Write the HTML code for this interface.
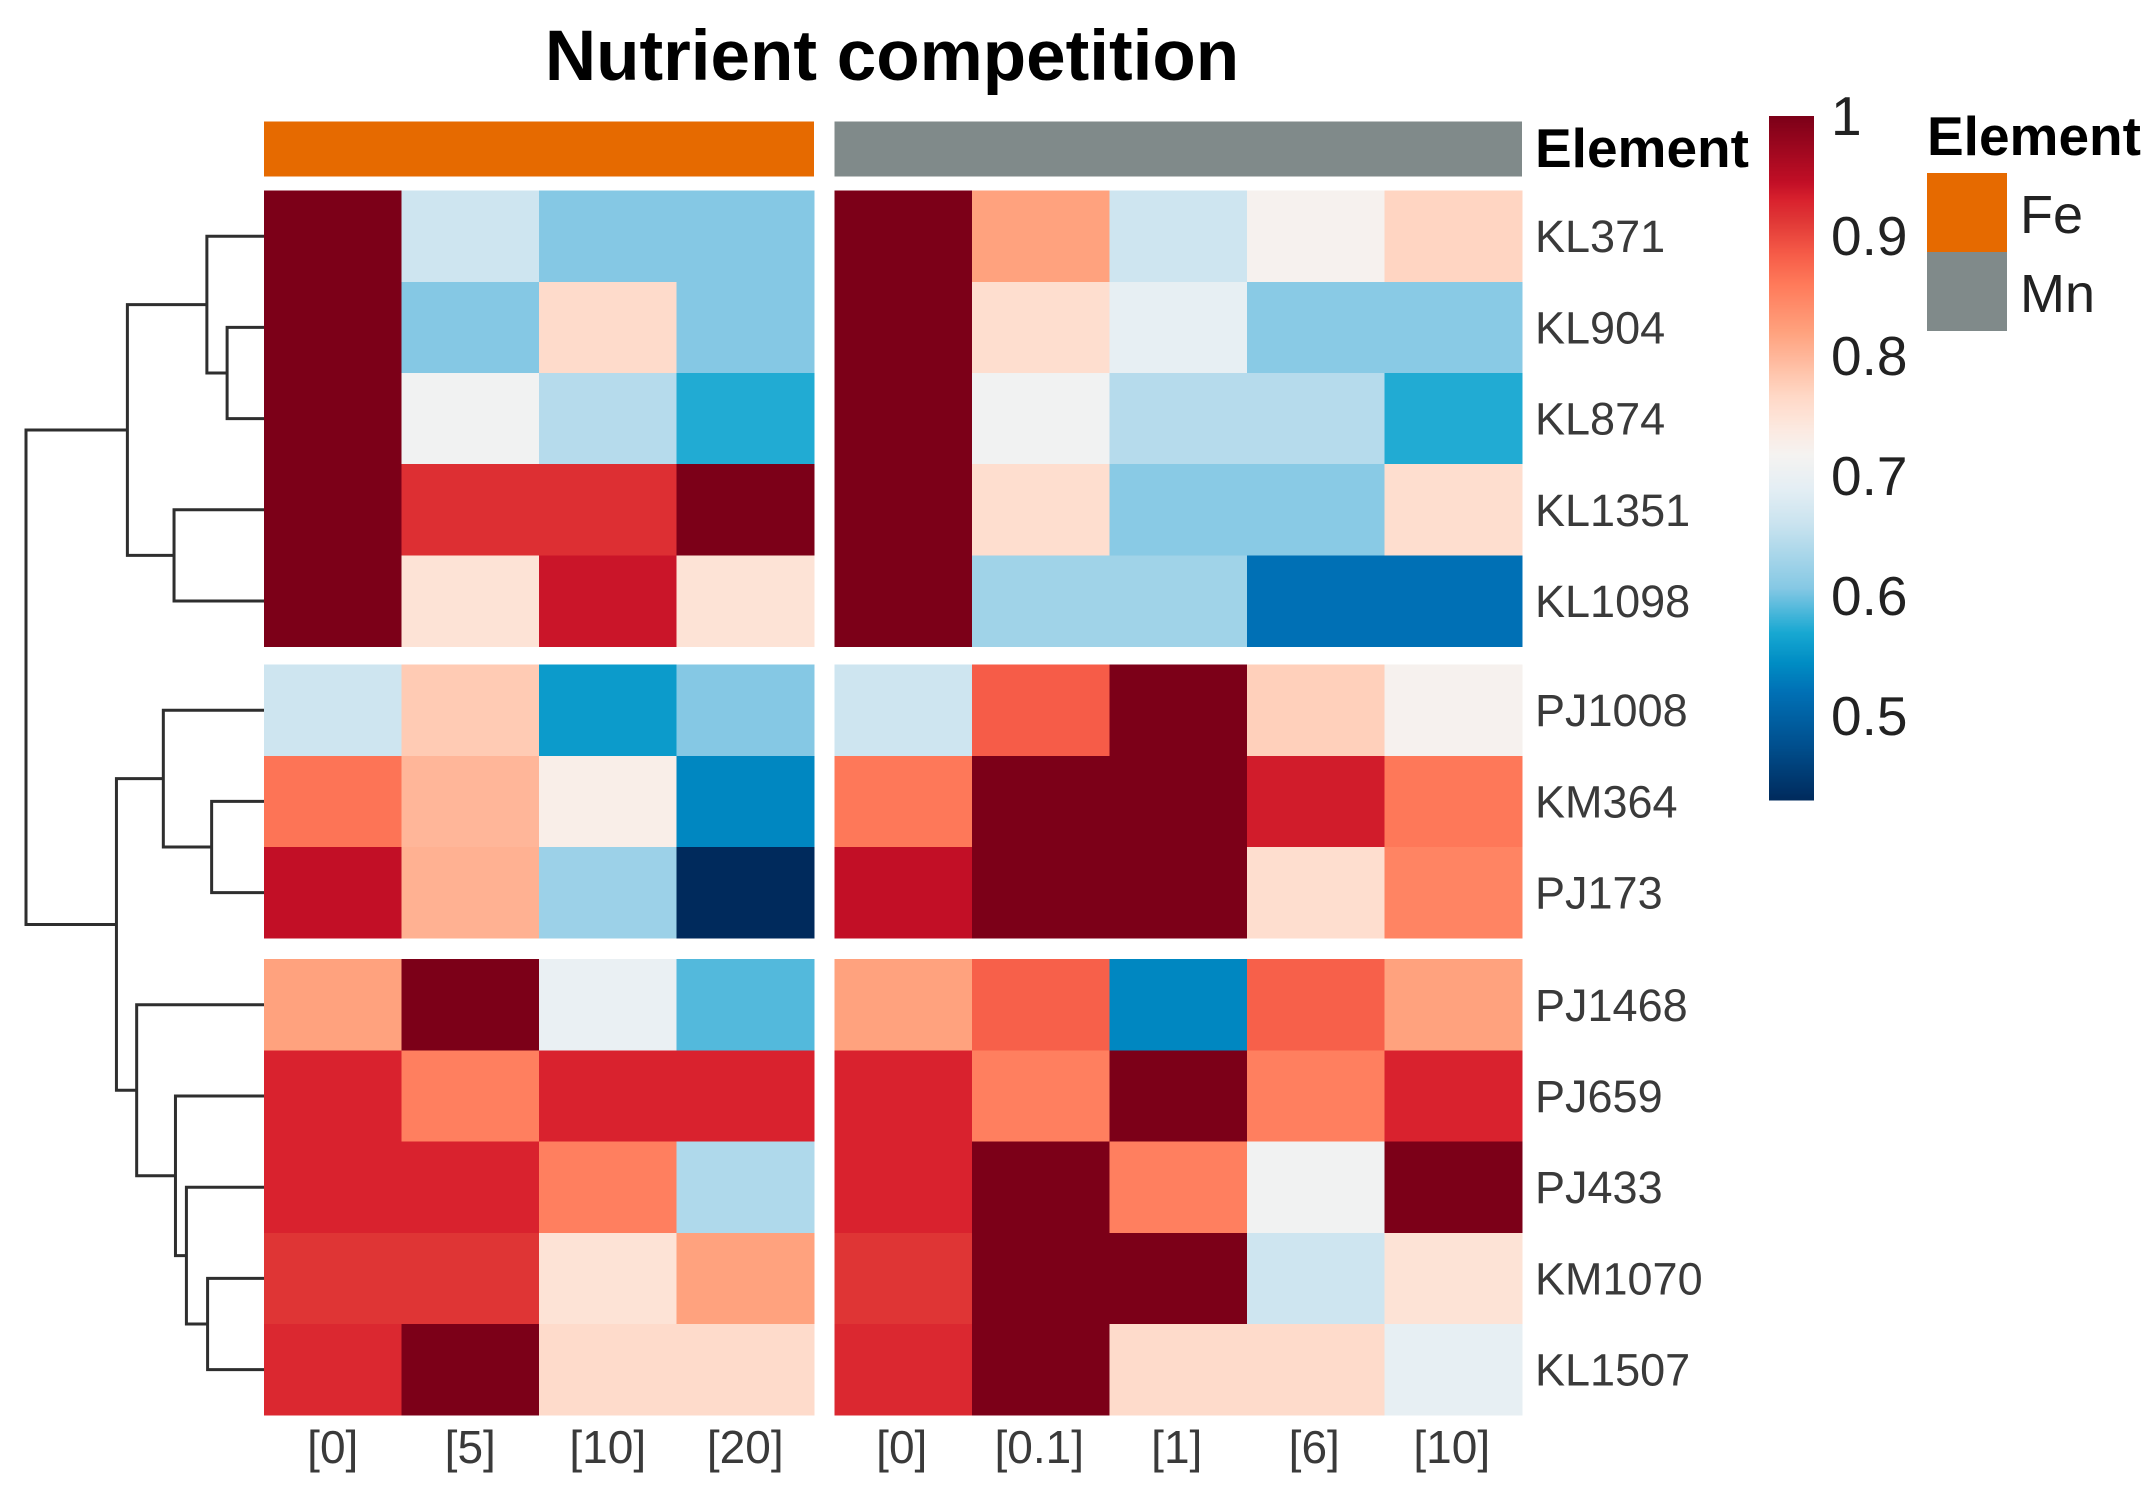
<!DOCTYPE html>
<html lang="en">
<head>
<meta charset="utf-8">
<title>Nutrient competition</title>
<style>
html,body{margin:0;padding:0;background:#fff;width:2155px;height:1492px;overflow:hidden}
svg{display:block}
text{font-family:"Liberation Sans",Arial,sans-serif}
</style>
</head>
<body>
<svg id="chart" xmlns="http://www.w3.org/2000/svg" width="2155" height="1492" viewBox="0 0 2155 1492">
  <rect x="0" y="0" width="2155" height="1492" fill="#ffffff"/>
  <text x="892" y="80" font-size="71" font-weight="700" text-anchor="middle" fill="#000">Nutrient competition</text>
  <g id="heatmap" shape-rendering="crispEdges"></g>
  <g id="dendrogram" fill="none" stroke="#2e2e2e" stroke-width="3"></g>
  <g id="annotation" shape-rendering="crispEdges"></g>
  <text x="1535" y="167" font-size="55" font-weight="700" fill="#000">Element</text>
  <g id="rowLabels"></g>
  <g id="colLabels"></g>
  <g id="colorbar" shape-rendering="crispEdges"></g>
  <g id="colorbarLabels"></g>
  <g>
    <text x="1927" y="155" font-size="55" font-weight="700" fill="#000">Element</text>
    <rect x="1927" y="173" width="80" height="79" fill="#e66a00" shape-rendering="crispEdges"/>
    <rect x="1927" y="252" width="80" height="79" fill="#808a8a" shape-rendering="crispEdges"/>
    <text x="2020" y="233" font-size="54" fill="#222">Fe</text>
    <text x="2020" y="312" font-size="54" fill="#222">Mn</text>
  </g>
</svg>
<script>
var rowNames = ["KL371","KL904","KL874","KL1351","KL1098","PJ1008","KM364","PJ173","PJ1468","PJ659","PJ433","KM1070","KL1507"];
var feColumns = ["[0]","[5]","[10]","[20]"];
var mnColumns = ["[0]","[0.1]","[1]","[6]","[10]"];
var feValues = [
  [1,0.665,0.607,0.607],
  [1,0.607,0.762,0.607],
  [1,0.712,0.645,0.573],
  [1,0.92,0.92,1],
  [1,0.75,0.94,0.75],
  [0.665,0.78,0.558,0.607],
  [0.865,0.80,0.73,0.54],
  [0.945,0.805,0.625,0.43],
  [0.82,1,0.70,0.59],
  [0.93,0.855,0.93,0.93],
  [0.93,0.93,0.855,0.64],
  [0.915,0.915,0.75,0.82],
  [0.925,1,0.762,0.762]
];
var mnValues = [
  [1,0.82,0.665,0.722,0.77],
  [1,0.758,0.695,0.61,0.61],
  [1,0.712,0.645,0.645,0.573],
  [1,0.758,0.61,0.61,0.758],
  [1,0.628,0.628,0.52,0.52],
  [0.665,0.885,1,0.775,0.722],
  [0.862,1,1,0.935,0.862],
  [0.945,1,1,0.758,0.85],
  [0.82,0.882,0.54,0.882,0.82],
  [0.93,0.855,1,0.855,0.93],
  [0.93,1,0.855,0.712,1],
  [0.915,1,1,0.665,0.75],
  [0.925,1,0.762,0.762,0.695]
];
var scaleValues = [1,0.945,0.93,0.915,0.885,0.86,0.82,0.767,0.74,0.718,0.69,0.66,0.607,0.57,0.545,0.52,0.477,0.43];
var scaleColors = ["#7c0018","#c20f26","#d9222e","#df3535","#f65c48","#ff7a5a","#ffa27e","#ffd8c6","#fce9e0","#f5f3f1","#e4eef4","#c9e3ef","#85c8e4","#18a8d2","#008dc4","#0070b5","#00508f","#002a5c"];
var colorbarTicks = ["1","0.9","0.8","0.7","0.6","0.5"];
var dendroLeft = [-2,-1,-4,2,-7,-6,-12,-11,-10,-9,6,4];
var dendroRight = [-3,1,-5,3,-8,5,-13,7,8,9,10,11];
var dendroHeight = [0.155,0.24,0.378,0.574,0.22,0.423,0.237,0.326,0.372,0.535,0.62,1.0];
var dendroJoin = [0.5,0.5,0.5,0.5,0.5,0.5,0.5,0.5,0.5,0.5,0.468,0.5];

var NS = "http://www.w3.org/2000/svg";
function make(tag, attrs, parent) {
  var el = document.createElementNS(NS, tag);
  for (var k in attrs) el.setAttribute(k, attrs[k]);
  parent.appendChild(el);
  return el;
}
function hexRgb(h) {
  return [parseInt(h.substr(1,2),16), parseInt(h.substr(3,2),16), parseInt(h.substr(5,2),16)];
}
function valueColor(v) {
  var n = scaleValues.length;
  if (v >= scaleValues[0]) return scaleColors[0];
  if (v <= scaleValues[n-1]) return scaleColors[n-1];
  for (var i = 0; i < n-1; i++) {
    if (v <= scaleValues[i] && v >= scaleValues[i+1]) {
      var t = (scaleValues[i]-v)/(scaleValues[i]-scaleValues[i+1]);
      var a = hexRgb(scaleColors[i]), b = hexRgb(scaleColors[i+1]);
      return "rgb(" + Math.round(a[0]+(b[0]-a[0])*t) + "," + Math.round(a[1]+(b[1]-a[1])*t) + "," + Math.round(a[2]+(b[2]-a[2])*t) + ")";
    }
  }
  return scaleColors[n-1];
}
var ROW_H = 91.2, ROW_TOP = 190.6;
function rowY(i) { return ROW_TOP + ROW_H*i + (i>=5?18:0) + (i>=8?21:0); }
function rowCenter(i) { return rowY(i) + ROW_H/2; }
var CELL_W_FE = 137.5, CELL_W_MN = 137.5, FE_X = 264, MN_X = 834.5;
function feX(c) { return FE_X + CELL_W_FE*c; }
function mnX(c) { return MN_X + CELL_W_MN*c; }
function dendroX(h) { return 264 - 238*h; }
function colorbarY(v) { return 116 + (1-v)*1200; }

var heat = document.getElementById("heatmap");
function drawPanel(values, xFn, width, cols, tag) {
  values.forEach(function(row, r) {
    row.forEach(function(v, c) {
      var rect = make("rect", {x:xFn(c), y:rowY(r), width:width+0.5, height:ROW_H+0.5, fill:valueColor(v)}, heat);
      
      
    });
  });
}
drawPanel(feValues, feX, CELL_W_FE, feColumns, 'fe');
drawPanel(mnValues, mnX, CELL_W_MN, mnColumns, 'mn');

var ann = document.getElementById("annotation");
var annFe = make("rect", {x:feX(0), y:121.4, width:CELL_W_FE*feColumns.length, height:55, fill:"#e66a00"}, ann);


var annMn = make("rect", {x:mnX(0), y:121.4, width:CELL_W_MN*mnColumns.length, height:55, fill:"#808a8a"}, ann);



var rl = document.getElementById("rowLabels");
rowNames.forEach(function(name, r) {
  var t = make("text", {x:1535, y:rowCenter(r)+16, "font-size":45, fill:"#3a3a3a"}, rl);
  t.textContent = name;
  
  
});

var cl = document.getElementById("colLabels");
function drawCols(cols, xFn, width, tag, nudge) {
  cols.forEach(function(name, c) {
    var t = make("text", {x:xFn(c)+width/2+nudge, y:1463, "font-size":46, "text-anchor":"middle", fill:"#3a3a3a"}, cl);
    t.textContent = name;
    
    
  });
}
drawCols(feColumns, feX, CELL_W_FE, 'fe', 0);
drawCols(mnColumns, mnX, CELL_W_MN, 'mn', -1.5);

var den = document.getElementById("dendrogram");
var nodes = [];
function endpoint(id) {
  if (id < 0) return {x:dendroX(0), y:rowCenter(-id-1)};
  return nodes[id-1];
}
dendroHeight.forEach(function(h, i) {
  var a = endpoint(dendroLeft[i]), b = endpoint(dendroRight[i]);
  var x = dendroX(h);
  var p = make("path", {d:"M"+a.x+" "+a.y+"H"+x+"V"+b.y+"H"+b.x}, den);
  
  
  nodes.push({x:x, y:a.y+(b.y-a.y)*dendroJoin[i]});
});

var cb = document.getElementById("colorbar");
var vMin = scaleValues[scaleValues.length-1];
var vMax = scaleValues[0];
for (var v = vMax; v > vMin; v -= 0.001) {
  var seg = make("rect", {x:1769, y:colorbarY(v), width:45, height:1.6, fill:valueColor(v)}, cb);
  
  
}
var cbl = document.getElementById("colorbarLabels");
colorbarTicks.forEach(function(label) {
  var t = make("text", {x:1831, y:colorbarY(parseFloat(label))+19, "font-size":55, fill:"#222"}, cbl);
  t.textContent = label;
  
  
});
</script>
</body>
</html>
